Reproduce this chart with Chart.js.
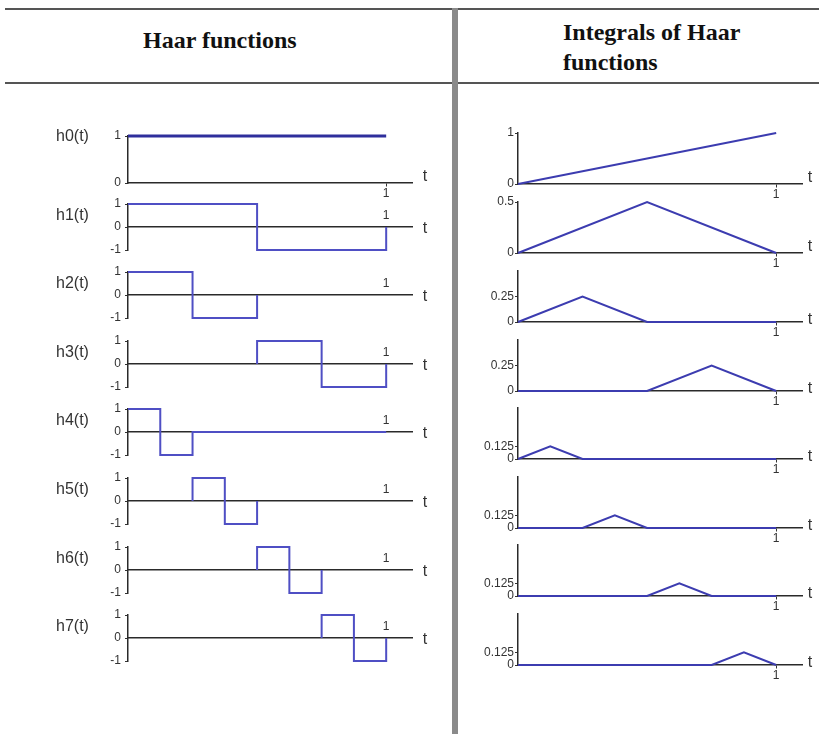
<!DOCTYPE html>
<html>
<head>
<meta charset="utf-8">
<script src="https://cdn.jsdelivr.net/npm/chart.js@4.4.1/dist/chart.umd.min.js"></script>
<style>
	html, body { margin: 0; padding: 0; background: #fff; }
	body { width: 819px; height: 734px; position: relative; overflow: hidden; font-family: 'Liberation Sans', Arial, sans-serif; }
	.rule { position: absolute; left: 5px; width: 814px; height: 2px; background: #555; }
	.divider { position: absolute; left: 452px; top: 8px; width: 6px; height: 726px; background: #8a8a8a; }
	.head { position: absolute; font-family: 'Liberation Serif', 'Times New Roman', serif; font-weight: bold; font-size: 24px; line-height: 30px; color: #111; white-space: nowrap; }
	.fn { position: absolute; font-size: 16px; line-height: 16px; color: #333; transform: translateY(-50%); }
	.t { position: absolute; font-size: 16px; line-height: 16px; color: #333; transform: translate(-50%, -50%); }
	canvas.plot { position: absolute; }
</style>
</head>
<body>
<div class="rule" style="top:8px"></div>
<div class="rule" style="top:82px"></div>
<div class="divider"></div>
<div class="head" style="left:143px; top:25px;">Haar functions</div>
<div class="head" style="left:563px; top:17px;">Integrals of Haar<br>functions</div>

<script>
// left column: Haar functions h0..h7 (step functions on [0, 1])
const haarNames = ['h0(t)', 'h1(t)', 'h2(t)', 'h3(t)', 'h4(t)', 'h5(t)', 'h6(t)', 'h7(t)'];
const haarT = [
	[0, 1],
	[0, 0.5, 0.5, 1, 1],
	[0, 0.25, 0.25, 0.5, 0.5],
	[0.5, 0.5, 0.75, 0.75, 1, 1],
	[0, 0.125, 0.125, 0.25, 0.25, 1],
	[0.25, 0.25, 0.375, 0.375, 0.5, 0.5],
	[0.5, 0.5, 0.625, 0.625, 0.75, 0.75],
	[0.75, 0.75, 0.875, 0.875, 1, 1],
];
const haarY = [
	[1, 1],
	[1, 1, -1, -1, 0],
	[1, 1, -1, -1, 0],
	[0, 1, 1, -1, -1, 0],
	[1, 1, -1, -1, 0, 0],
	[0, 1, 1, -1, -1, 0],
	[0, 1, 1, -1, -1, 0],
	[0, 1, 1, -1, -1, 0],
];
const haarYTicks = [[0, 1], [-1, 0, 1], [-1, 0, 1], [-1, 0, 1], [-1, 0, 1], [-1, 0, 1], [-1, 0, 1], [-1, 0, 1]];

// right column: integrals of the Haar functions
const intT = [
	[0, 1],
	[0, 0.5, 1],
	[0, 0.25, 0.5, 1],
	[0, 0.5, 0.75, 1],
	[0, 0.125, 0.25, 1],
	[0, 0.25, 0.375, 0.5, 1],
	[0, 0.5, 0.625, 0.75, 1],
	[0, 0.75, 0.875, 1],
];
const intY = [
	[0, 1],
	[0, 0.5, 0],
	[0, 0.25, 0, 0],
	[0, 0, 0.25, 0],
	[0, 0.125, 0, 0],
	[0, 0, 0.125, 0, 0],
	[0, 0, 0.125, 0, 0],
	[0, 0, 0.125, 0],
];
const intYMax = [1, 0.5, 0.5, 0.5, 0.5, 0.5, 0.5, 0.5];
const intYTicks = [[0, 1], [0, 0.5], [0, 0.25], [0, 0.25], [0, 0.125], [0, 0.125], [0, 0.125], [0, 0.125]];

const xTicks = [1];

// layout: pixel row of the t axis in each panel
const haarAxisY = [183, 227, 295, 364, 432, 501, 570, 638];
const intAxisY = [184, 253, 322, 391, 459, 528, 596, 665];

function makePlot(p) {
	const padL = 44, padR = 30, padT = 12, padB = 26;
	const canvas = document.createElement('canvas');
	canvas.className = 'plot';
	canvas.width = p.w + padL + padR;
	canvas.height = p.h + padT + padB;
	canvas.style.left = (p.x - padL) + 'px';
	canvas.style.top = (p.y - padT) + 'px';
	document.body.appendChild(canvas);

	new Chart(canvas, {
		type: 'line',
		data: {
			datasets: [
				{
					data: p.t.map((t, i) => ({ x: t, y: p.v[i] })),
					borderColor: p.color,
					borderWidth: p.lw,
					pointRadius: 0,
					tension: 0,
					clip: false,
				},
			],
		},
		options: {
			responsive: false,
			animation: false,
			events: [],
			layout: { padding: { left: 0, right: padR, top: padT, bottom: padB } },
			plugins: { legend: { display: false }, tooltip: { enabled: false } },
			scales: {
				x: {
					type: 'linear',
					min: 0,
					max: 1.1,
					position: { y: 0 },
					afterBuildTicks: (s) => { s.ticks = xTicks.map((v) => ({ value: v })); },
					ticks: {
						callback: (v) => String(v),
						color: '#333',
						font: { size: 12, family: 'Liberation Sans' },
						padding: p.labelAbove ? -19 : 0,
						maxRotation: 0,
					},
					grid: { drawOnChartArea: false, drawTicks: !p.labelAbove, tickLength: 3, color: '#333' },
					border: { display: true, color: '#2a2a2a', width: 1.5 },
				},
				y: {
					type: 'linear',
					min: p.ymin,
					max: p.ymax,
					position: 'left',
					afterFit: (s) => { s.width = padL; },
					afterBuildTicks: (s) => { s.ticks = p.yTicks.map((v) => ({ value: v })); },
					ticks: {
						callback: (v) => String(v),
						color: '#333',
						font: { size: 12, family: 'Liberation Sans' },
						padding: p.yPad,
					},
					grid: { drawOnChartArea: false, tickLength: 3, color: '#333' },
					border: { display: true, color: '#2a2a2a', width: 1.5 },
				},
			},
		},
	});
}

function addText(cls, text, x, y) {
	const d = document.createElement('div');
	d.className = cls;
	d.textContent = text;
	d.style.left = x + 'px';
	d.style.top = y + 'px';
	document.body.appendChild(d);
}

for (let i = 0; i < haarNames.length; i++) {
	const first = i == 0;
	const zero = haarAxisY[i];
	makePlot({
		x: 128,
		y: first ? zero - 47 : zero - 23,
		w: 284,
		h: first ? 47 : 46,
		t: haarT[i],
		v: haarY[i],
		ymin: first ? 0 : -1,
		ymax: 1,
		yTicks: haarYTicks[i],
		yPad: 4,
		color: first ? '#2e2e9c' : '#4f4fc4',
		lw: first ? 3 : 2,
		labelAbove: !first,
	});
	addText('fn', haarNames[i], 56, first ? 136 : zero - 12);
	addText('t', 't', 425, first ? zero - 7 : zero + 1);
}

for (let i = 0; i < intT.length; i++) {
	const zero = intAxisY[i];
	makePlot({
		x: 518,
		y: zero - 51,
		w: 284,
		h: 51,
		t: intT[i],
		v: intY[i],
		ymin: 0,
		ymax: intYMax[i],
		yTicks: intYTicks[i],
		yPad: 1,
		color: '#3c3cb0',
		lw: 2,
		labelAbove: false,
	});
	addText('t', 't', 810, i < 2 ? zero - 7 : zero - 3);
}
</script>
</body>
</html>
